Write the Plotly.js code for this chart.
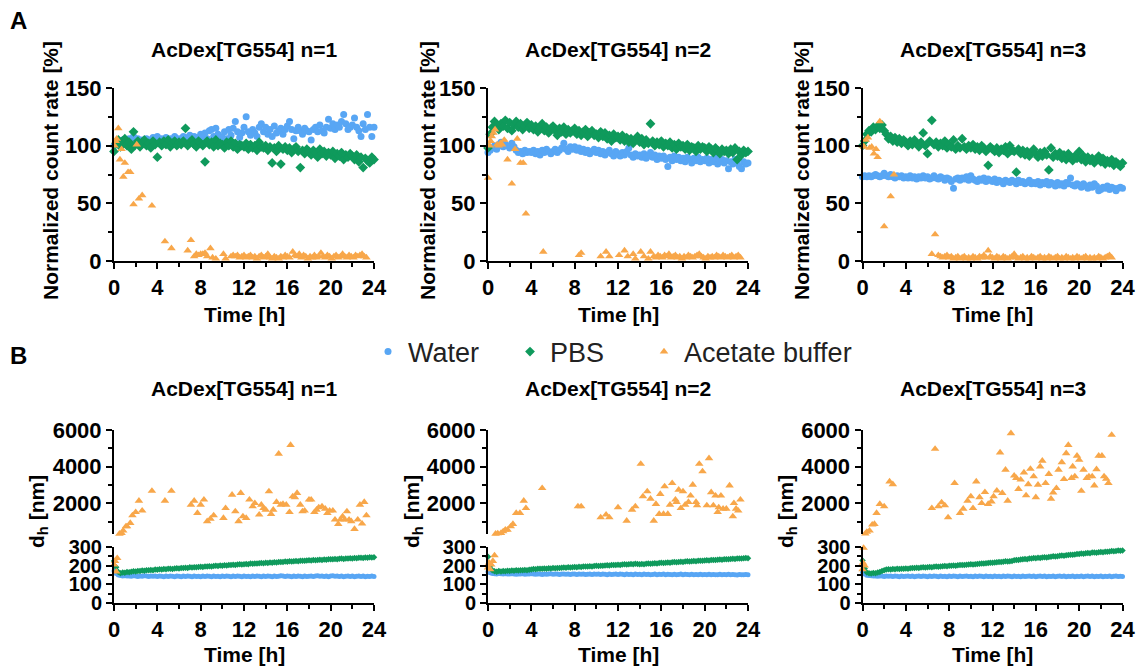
<!DOCTYPE html>
<html><head><meta charset="utf-8">
<script src="https://cdn.plot.ly/plotly-3.0.1.min.js"></script>
<style>html,body{margin:0;padding:0;background:#fff}#chart{width:1141px;height:667px}</style>
</head><body><div id="chart"></div>
<script>
// ---------- shared sampling times [h] ----------
const TIME = [
0,0.2,0.4,0.6,0.8,1,1.2,1.4,1.6,1.8,
2,2.2,2.4,2.6,2.8,3,3.2,3.4,3.6,3.8,
4,4.2,4.4,4.6,4.8,5,5.2,5.4,5.6,5.8,
6,6.2,6.4,6.6,6.8,7,7.2,7.4,7.6,7.8,
8,8.2,8.4,8.6,8.8,9,9.2,9.4,9.6,9.8,
10,10.2,10.4,10.6,10.8,11,11.2,11.4,11.6,11.8,
12,12.2,12.4,12.6,12.8,13,13.2,13.4,13.6,13.8,
14,14.2,14.4,14.6,14.8,15,15.2,15.4,15.6,15.8,
16,16.2,16.4,16.6,16.8,17,17.2,17.4,17.6,17.8,
18,18.2,18.4,18.6,18.8,19,19.2,19.4,19.6,19.8,
20,20.2,20.4,20.6,20.8,21,21.2,21.4,21.6,21.8,
22,22.2,22.4,22.6,22.8,23,23.2,23.4,23.6,23.8,
24];

// ---------- A: normalized count rate [%] ----------
const a1Water = [
100,102,104,103,105,104,103,106,105,108,
104,106,103,105,104,106,105,103,107,104,
108,104,106,105,107,104,106,105,108,105,
106,104,108,105,107,109,105,108,106,107,
110,107,111,106,113,114,108,115,110,108,
107,112,106,114,109,115,121,112,107,111,
116,125,112,109,114,111,108,116,119,112,
116,110,114,108,117,111,113,115,110,114,
117,121,114,106,113,116,113,110,115,113,
112,105,114,116,112,118,113,111,116,123,
115,119,114,118,116,121,127,119,114,116,
118,124,116,113,108,119,114,127,116,108,
116];
const a1PBS = [
95,102,105,99,104,106,100,103,97,112,
101,104,99,103,105,100,102,98,104,101,
90,103,100,104,101,105,99,102,104,100,
103,101,104,115,100,103,105,101,99,104,
102,100,86,104,101,103,99,105,100,102,
101,98,103,100,104,99,102,97,101,100,
99,102,97,101,98,100,96,103,99,98,
100,96,99,85,98,95,100,84,97,99,
96,98,94,97,99,95,81,96,93,97,
95,92,96,94,90,97,93,95,91,94,
92,95,89,93,91,94,88,92,90,93,
91,88,92,86,90,81,89,87,85,90,
88];
const a1AcetT = [
0.05,0.15,0.25,0.4,0.55,0.7,0.86,1.0,1.3,1.5,
1.8,2.1,2.3,2.6,3.5,4.7,5.3,6.8,7.1,7.4,
7.6,7.8,8.0,8.2,8.4,8.6,8.9,9.1,9.4,10.1,
10.3,10.8,11.0,11.2,11.4,11.6,11.8,12.0,12.2,12.4,
12.6,12.8,13.0,13.2,13.4,13.6,13.8,14.0,14.2,14.4,
14.6,14.8,15.0,15.2,15.4,15.6,15.8,16.0,16.2,16.5,
16.7,16.9,17.1,17.3,17.5,17.7,17.9,18.1,18.3,18.5,
18.7,18.9,19.1,19.3,19.5,19.7,19.9,20.1,20.3,20.5,
20.7,20.9,21.1,21.3,21.5,21.7,21.9,22.1,22.3,22.5,
22.7,22.9,23.1,23.3];
const a1AcetV = [
100,104,106,115,88,97,73,85,77,77,
49,101,54,57,48,17,11,9,18,4,
6,5,6,6,7,4,11,3,2,6,
2,4,5,4,5,3,4,5,3,4,
5,3,4,2,4,5,3,4,6,3,
2,4,3,2,4,3,5,4,3,8,
5,4,6,3,5,4,2,4,3,5,
3,4,7,4,3,5,4,2,4,5,
3,4,6,4,3,5,4,3,5,4,
5,6,4,3];

const a2Water = [
94,96,98,100,97,101,103,99,101,100,
98,102,99,96,94,95,93,96,94,95,
94,96,93,95,92,96,94,97,95,93,
95,97,94,96,98,102,97,95,99,97,
99,96,98,95,97,94,96,93,95,97,
94,96,93,95,92,94,96,93,91,95,
93,91,94,92,95,98,92,90,93,91,
92,90,93,89,91,94,90,92,88,91,
89,91,88,82,90,87,91,88,90,87,
89,86,90,88,85,89,87,90,86,88,
87,89,85,88,86,89,84,87,88,85,
87,80,86,84,88,85,82,80,86,84,
85];
const a2PBS = [
98,110,116,121,118,114,119,117,122,115,
120,113,118,121,116,119,114,117,120,115,
118,114,117,112,116,119,113,116,111,115,
117,113,109,115,112,116,110,114,111,113,
115,110,113,109,112,114,108,111,113,109,
110,107,112,108,111,106,109,104,110,107,
108,105,109,104,107,103,106,102,105,108,
103,106,101,105,102,119,104,100,103,101,
104,99,102,100,103,98,101,97,102,99,
100,97,101,96,99,98,95,100,97,99,
98,95,99,97,94,98,96,93,97,95,
96,93,97,94,98,88,95,92,96,94,
95];
const a2AcetT = [
0,0.15,0.25,0.35,0.5,0.65,0.85,1.0,1.15,1.3,
1.5,1.8,2.2,2.5,2.7,3.0,3.25,3.5,5.1,8.4,
8.6,10.4,10.9,11.2,12.1,12.6,12.9,13.4,13.6,14.1,
14.4,14.8,15.0,15.3,15.5,15.7,15.9,16.1,16.3,16.5,
16.7,16.9,17.1,17.3,17.5,17.7,17.9,18.1,18.3,18.5,
18.7,18.9,19.1,19.3,19.5,19.7,19.9,20.1,20.3,20.5,
20.7,20.9,21.1,21.3,21.5,21.7,21.9,22.1,22.3,22.5,
22.7,22.9,23.1,23.3];
const a2AcetV = [
72,100,104,108,111,114,101,100,102,101,
105,88,67,97,106,85,85,41,8,5,
7,4,8,4,5,9,4,6,2,8,
4,2,8,4,3,5,4,3,5,4,
6,3,4,5,3,4,2,4,3,5,
4,3,4,5,6,4,3,2,4,3,
4,3,5,4,3,5,4,3,4,5,
3,4,5,3];

const a3Water = [
73,74,73,74,73,74,75,74,73,74,
76,74,73,75,73,72,74,73,74,72,
73,72,74,72,73,71,73,72,74,72,
73,71,72,74,72,71,73,72,70,72,
71,69,63,71,72,70,72,71,73,70,
74,71,70,69,71,70,72,69,71,70,
69,71,68,70,69,67,70,69,68,70,
69,67,70,68,69,67,68,70,67,68,
67,69,66,68,67,69,66,68,67,65,
68,66,67,65,68,67,72,66,65,67,
66,64,67,65,63,66,64,67,65,61,
62,64,63,65,62,64,63,61,63,64,
63];
const a3PBS = [
100,104,110,113,112,116,114,117,115,118,
113,110,106,108,104,107,103,106,102,105,
103,100,104,101,105,102,99,103,111,100,
93,104,122,101,103,99,102,100,104,98,
101,99,105,97,100,98,106,99,97,100,
98,101,97,99,96,100,98,95,83,99,
97,95,98,94,97,96,99,93,100,96,
95,77,97,93,96,92,95,91,94,97,
93,90,94,91,95,92,79,98,90,93,
91,94,89,92,88,93,90,87,91,89,
95,88,91,86,90,87,89,85,88,91,
86,89,84,87,85,88,83,86,84,82,
85];
const a3AcetT = [
0,0.15,0.3,0.5,0.65,0.85,1.05,1.25,1.4,1.6,
2.0,2.6,2.9,6.4,6.7,7.0,7.2,7.4,7.6,7.8,
8.0,8.2,8.4,8.6,8.8,9.0,9.2,9.4,9.6,9.8,
10.0,10.2,10.4,10.6,10.8,11.0,11.2,11.4,11.6,11.8,
12.0,12.2,12.4,12.6,12.8,13.0,13.2,13.4,13.6,13.8,
14.0,14.2,14.4,14.6,14.8,15.0,15.2,15.4,15.6,15.8,
16.0,16.2,16.4,16.6,16.8,17.0,17.2,17.4,17.6,17.8,
18.0,18.2,18.4,18.6,18.8,19.0,19.2,19.4,19.6,19.8,
20.0,20.2,20.4,20.6,20.8,21.0,21.2,21.4,21.6,21.8,
22.0,22.2,22.4,22.6,22.8,23.0];
const a3AcetV = [
100,99,105,107,98,99,93,97,90,121,
30,56,75,6,23,5,4,3,4,5,
3,4,2,3,4,2,3,4,2,3,
2,4,3,2,4,3,5,3,9,4,
3,2,4,3,2,4,3,2,3,4,
6,3,2,3,4,2,3,2,4,3,
2,3,4,2,3,2,4,3,2,3,
4,2,3,2,4,3,2,3,2,4,
3,2,3,4,2,3,2,3,2,4,
3,2,3,4,5,3];

// ---------- B: hydrodynamic diameter d_h [nm] ----------
const b1Water = [
172,158,150,147,145,146,144,145,143,146,
144,142,145,143,146,144,142,145,143,144,
142,145,143,141,144,142,145,143,141,144,
143,141,144,142,145,143,141,144,142,143,
141,144,142,145,143,141,144,142,143,141,
144,142,145,143,141,144,142,145,143,141,
144,142,143,141,144,142,145,143,141,144,
142,145,143,141,144,142,143,146,144,142,
145,143,141,144,142,145,143,141,144,142,
143,145,142,144,146,143,145,142,144,141,
144,146,143,145,142,144,141,143,145,142,
144,141,143,145,142,144,141,143,142,144,
142];
const b1PBS = [
225,192,166,160,163,162,166,165,168,170,
169,172,171,174,173,176,175,177,176,179,
178,181,180,182,181,184,183,182,185,186,
185,188,187,189,188,191,190,192,191,193,
194,193,196,195,197,196,198,199,198,201,
200,202,201,204,203,205,204,206,207,206,
208,209,208,211,210,212,211,213,214,213,
215,214,217,216,218,217,219,220,219,222,
221,223,222,224,225,224,226,227,226,228,
229,228,230,229,231,232,231,233,232,234,
235,234,236,235,237,238,236,239,238,240,
239,241,240,242,243,241,244,243,245,244,
245];
const b1AcetLowT = [0,0.1,0.2,0.3];
const b1AcetLowV = [205,225,168,240];
const b1AcetHighT = [
0.5,0.7,0.85,1.1,1.2,1.5,1.7,2.0,2.3,2.6,
3.5,4.7,5.3,7.1,7.4,7.7,8.0,8.3,8.6,8.9,
9.2,10.1,10.3,10.9,11.2,11.5,11.7,11.9,12.2,12.5,
12.8,13.0,13.4,13.6,13.8,14.0,14.3,14.5,14.7,15.0,
15.2,15.4,15.6,15.9,16.2,16.3,16.5,16.7,16.9,17.2,
17.4,17.6,18.0,18.2,18.5,18.7,18.9,19.2,19.5,19.7,
19.9,20.2,20.4,20.7,20.9,21.1,21.3,21.5,21.7,21.9,
22.2,22.5,22.7,22.9,23.1,23.3];
const b1AcetHighV = [
340,380,510,745,745,925,1340,1520,2140,1600,
2680,2140,2680,1920,2140,1470,1920,2200,1020,1160,
1340,1200,1740,2470,1560,1020,2560,1290,1200,2200,
1830,2010,1380,1920,1740,1650,2650,1420,1650,2070,
4700,1920,1960,1920,1520,5180,2380,2330,2560,1920,
1560,1600,2200,2200,1520,1650,1780,1830,1700,1470,
1600,1600,1110,870,1110,1290,1110,1560,1110,1020,
600,1110,1920,890,2070,1340];

const b2Water = [
168,162,158,157,156,158,157,155,157,156,
155,157,156,154,156,155,157,154,156,155,
157,155,154,156,155,153,156,154,155,157,
154,156,155,153,155,156,154,155,153,156,
155,153,156,154,155,153,154,156,153,155,
154,156,153,155,154,152,155,153,154,156,
153,155,154,152,155,153,154,152,155,153,
154,152,155,153,154,152,153,155,152,154,
153,155,152,154,153,151,154,152,153,155,
152,154,153,151,154,152,153,151,154,152,
153,151,154,152,153,151,152,154,151,153,
152,154,151,153,152,150,153,151,152,153,
151];
const b2PBS = [
248,200,175,170,168,171,169,172,170,173,
172,174,173,175,174,176,175,177,176,178,
180,182,181,183,184,183,185,184,186,185,
187,186,188,187,189,190,189,191,190,192,
193,192,194,193,195,196,195,197,196,198,
199,198,200,199,201,202,201,203,204,203,
205,204,206,207,206,208,209,208,210,209,
208,209,208,210,211,210,212,213,212,214,
215,214,216,217,216,218,219,218,220,221,
220,222,223,222,224,225,224,226,227,226,
228,229,228,230,231,230,232,233,232,234,
235,234,236,237,236,238,239,238,240,241,
240];
const b2AcetLowT = [0,0.1,0.2,0.3,0.45,0.6];
const b2AcetLowV = [190,215,180,205,225,255];
const b2AcetHighT = [
0.7,0.9,1.2,1.4,1.6,1.8,2.1,2.3,2.6,2.95,
3.3,3.5,5.0,8.3,8.6,10.4,10.9,11.2,12.0,12.8,
13.3,13.6,14.1,14.3,14.7,15.0,15.3,15.5,15.8,15.9,
16.2,16.3,16.6,16.8,17.0,17.3,17.4,17.6,17.8,18.0,
18.2,18.5,18.7,18.9,19.2,19.3,19.5,19.8,20.2,20.4,
20.6,20.8,21.0,21.2,21.3,21.5,21.7,22.0,22.3,22.6,
22.7,22.9,23.1,23.3];
const b2AcetHighV = [
340,360,380,470,560,560,745,870,1470,1470,
2140,1740,2830,1830,1830,1230,1380,1230,1780,1050,
1650,1830,4150,2380,2650,2250,1050,1960,1420,2510,
1420,2920,1420,1920,3100,2200,2070,2740,1740,2650,
1920,2070,2420,3010,2070,1890,4150,3740,1890,4460,
2600,1890,2420,1520,1780,2420,1700,1700,2970,1290,
2010,1700,1600,2200];

const b3Water = [
165,155,149,147,146,144,145,143,145,144,
142,145,143,144,142,145,143,141,144,142,
143,145,142,144,141,143,145,142,144,143,
141,144,142,145,143,141,144,142,143,141,
144,142,145,143,141,144,142,143,145,142,
143,141,144,142,145,143,141,144,142,143,
141,144,142,143,141,144,142,145,143,141,
144,142,143,141,144,142,143,145,142,144,
141,143,145,142,144,141,143,142,144,141,
143,145,142,144,141,143,142,144,141,143,
142,144,141,143,145,142,144,141,143,142,
144,141,143,142,144,141,143,145,142,143,
142];
const b3PBS = [
228,185,163,160,158,161,159,163,166,171,
176,179,181,180,182,181,183,182,184,183,
185,184,186,188,187,189,188,190,191,190,
192,193,192,194,195,194,196,197,198,197,
199,200,201,200,202,203,204,203,205,206,
207,206,208,209,210,211,212,213,214,215,
216,217,218,220,219,221,223,222,224,225,
229,231,230,233,234,236,235,238,239,241,
240,242,241,244,245,244,247,248,250,249,
251,253,254,253,256,257,259,258,260,262,
263,265,264,267,268,267,270,271,269,272,
273,272,275,274,276,278,277,279,281,280,
281];
const b3AcetLowT = [0,0.05,0.1,0.2];
const b3AcetLowV = [180,215,295,200];
const b3AcetHighT = [
0.26,0.4,0.65,0.9,1.1,1.3,1.6,2.0,2.5,2.8,
6.4,6.7,7.0,7.3,7.6,7.9,8.5,9.0,9.3,9.7,
10.0,10.2,10.5,10.8,11.0,11.3,11.6,11.9,12.1,12.4,
12.7,12.9,13.2,13.4,13.7,14.0,14.2,14.4,14.6,14.9,
15.1,15.3,15.5,15.8,16.0,16.2,16.4,16.6,16.9,17.2,
17.4,17.6,17.9,18.1,18.4,18.6,18.8,19.0,19.3,19.4,
19.6,19.8,20.0,20.2,20.4,20.7,20.9,21.2,21.4,21.6,
21.8,22.1,22.3,22.5,22.7,23.0];
const b3AcetHighV = [
350,440,510,840,870,1470,1960,1830,3190,3040,
1740,4970,1830,2050,1890,1230,3100,1470,1700,2140,
2380,1740,3190,2330,2010,2610,1960,2100,2380,2690,
4770,2560,3830,2140,5820,3510,3380,2780,3290,3680,
2430,3040,3880,3470,2330,3010,4010,4320,3100,3600,
2250,2590,2830,3830,4240,3320,4730,5180,3380,4010,
3470,4590,4370,2680,3830,3380,3470,3470,2970,3860,
4590,4590,3470,3330,3100,5730];

// ---------- labels ----------
const seriesNames = ['Water','PBS','Acetate buffer'];
const panelTitles = ['AcDex[TG554] n=1','AcDex[TG554] n=2','AcDex[TG554] n=3'];
const xTicks = [0,4,8,12,16,20,24];

// ---------- styles ----------
const FONT = 'Liberation Sans, Arial, Helvetica, sans-serif';
const C_WATER = '#58A6F4', C_PBS = '#0F9A5C', C_ACET = '#F8A74A';
const W = 1141, H = 667;
const px = v => v / W, py = v => 1 - v / H;
const legendIds = ['legend', 'legend2', 'legend3'];

const traces = [];
function add(x, y, xa, ya, color, symbol, size, idx, legend) {
  traces.push({
    type: 'scatter', mode: 'markers', x: x, y: y, xaxis: xa, yaxis: ya,
    name: seriesNames[idx], legendgroup: seriesNames[idx], showlegend: !!legend,
    legend: legendIds[idx],
    cliponaxis: false, hoverinfo: 'skip',
    marker: {color: color, symbol: symbol, size: size, line: {width: 0}}
  });
}
// A panels
const A = [[a1Water,a1PBS,a1AcetT,a1AcetV],[a2Water,a2PBS,a2AcetT,a2AcetV],[a3Water,a3PBS,a3AcetT,a3AcetV]];
A.forEach((d, i) => {
  const xa = 'x' + (i + 1), ya = 'y' + (i + 1);
  add(TIME, d[0], xa, ya, C_WATER, 'circle', 7, 0, i === 0);
  add(TIME, d[1], xa, ya, C_PBS, 'diamond', 7.5, 1, i === 0);
  add(d[2], d[3], xa, ya, C_ACET, 'triangle-up', 7.5, 2, i === 0);
});
// B panels
const B = [
  [b1Water,b1PBS,b1AcetLowT,b1AcetLowV,b1AcetHighT,b1AcetHighV],
  [b2Water,b2PBS,b2AcetLowT,b2AcetLowV,b2AcetHighT,b2AcetHighV],
  [b3Water,b3PBS,b3AcetLowT,b3AcetLowV,b3AcetHighT,b3AcetHighV]];
B.forEach((d, i) => {
  const xa = 'x' + (i + 4), yl = 'y' + (i + 4), yu = 'y' + (i + 7);
  add(TIME, d[0], xa, yl, C_WATER, 'circle', 5, 0, false);
  add(TIME, d[1], xa, yl, C_PBS, 'diamond', 5, 1, false);
  add(d[2], d[3], xa, yl, C_ACET, 'triangle-up', 7.5, 2, false);
  add(d[4], d[5], xa, yu, C_ACET, 'triangle-up', 7.5, 2, false);
});

function tf(size) { return {family: FONT, size: size, color: '#000', weight: 'bold'}; }
function axis(extra) {
  return Object.assign({
    showline: true, linecolor: '#000', linewidth: 2, ticks: 'outside', ticklen: 6,
    tickwidth: 2, tickcolor: '#000', showgrid: false, zeroline: false,
    tickfont: tf(22), fixedrange: true
  }, extra);
}
const xDom = [[114, 374], [488, 748], [862.5, 1122.5]];
function legendAt(x) {
  return {orientation: 'h', x: px(x), xanchor: 'left', y: py(352), yanchor: 'middle',
          font: {family: FONT, size: 27, color: '#222'}, bgcolor: 'rgba(0,0,0,0)',
          itemclick: false, itemdoubleclick: false};
}
const layout = {
  width: W, height: H, margin: {l: 0, r: 0, t: 0, b: 0},
  paper_bgcolor: '#fff', plot_bgcolor: 'rgba(0,0,0,0)',
  font: {family: FONT, color: '#000'},
  showlegend: true,
  legend: legendAt(368), legend2: legendAt(510), legend3: legendAt(644),
  annotations: []
};
const minorX = {dtick: 2, ticklen: 4, tickwidth: 2, tickcolor: '#000', ticks: 'outside'};
for (let i = 0; i < 3; i++) {
  const dom = [px(xDom[i][0]), px(xDom[i][1])];
  layout['xaxis' + (i + 1)] = axis({domain: dom, anchor: 'y' + (i + 1), range: [0, 24], tickvals: xTicks, minor: minorX});
  layout['yaxis' + (i + 1)] = axis({domain: [py(261), py(88)], anchor: 'x' + (i + 1), range: [0, 150], dtick: 50, tick0: 0,
    minor: {dtick: 25, ticklen: 4, tickwidth: 2, tickcolor: '#000', ticks: 'outside'}});
  layout['xaxis' + (i + 4)] = axis({domain: dom, anchor: 'y' + (i + 4), range: [0, 24], tickvals: xTicks, minor: minorX});
  layout['yaxis' + (i + 4)] = axis({domain: [py(603), py(547)], anchor: 'x' + (i + 4), range: [0, 300], dtick: 100, tick0: 0,
    tickfont: tf(20),
    minor: {dtick: 50, ticklen: 4, tickwidth: 2, tickcolor: '#000', ticks: 'outside'}});
  layout['yaxis' + (i + 7)] = axis({domain: [py(534), py(430)], anchor: 'x' + (i + 4), range: [330, 6000],
    tickvals: [2000, 4000, 6000], tickformat: 'd',
    minor: {tickvals: [1000, 3000, 5000], ticklen: 4, tickwidth: 2, tickcolor: '#000', ticks: 'outside'}});

  const cx = px((xDom[i][0] + xDom[i][1]) / 2);
  layout.annotations.push(
    {text: panelTitles[i], xref: 'paper', yref: 'paper', x: cx, y: py(50), xanchor: 'center', yanchor: 'middle', showarrow: false, font: tf(21)},
    {text: panelTitles[i], xref: 'paper', yref: 'paper', x: cx, y: py(388), xanchor: 'center', yanchor: 'middle', showarrow: false, font: tf(21)},
    {text: 'Time [h]', xref: 'paper', yref: 'paper', x: cx, y: py(314), xanchor: 'center', yanchor: 'middle', showarrow: false, font: tf(21)},
    {text: 'Time [h]', xref: 'paper', yref: 'paper', x: cx, y: py(654), xanchor: 'center', yanchor: 'middle', showarrow: false, font: tf(21)}
  );
}
[50, 427, 801].forEach(x => layout.annotations.push(
  {text: 'Normalized count rate [%]', textangle: -90, xref: 'paper', yref: 'paper', x: px(x), y: py(171),
   xanchor: 'center', yanchor: 'middle', showarrow: false, font: tf(21)}));
[38, 413, 787].forEach(x => layout.annotations.push(
  {text: 'd<sub>h</sub> [nm]', textangle: -90, xref: 'paper', yref: 'paper', x: px(x), y: py(512),
   xanchor: 'center', yanchor: 'middle', showarrow: false, font: tf(21)}));
layout.annotations.push(
  {text: 'A', xref: 'paper', yref: 'paper', x: px(18), y: py(21), xanchor: 'center', yanchor: 'middle', showarrow: false, font: tf(24)},
  {text: 'B', xref: 'paper', yref: 'paper', x: px(18), y: py(355), xanchor: 'center', yanchor: 'middle', showarrow: false, font: tf(24)});

Plotly.newPlot('chart', traces, layout, {staticPlot: true, displayModeBar: false});
</script></body></html>
